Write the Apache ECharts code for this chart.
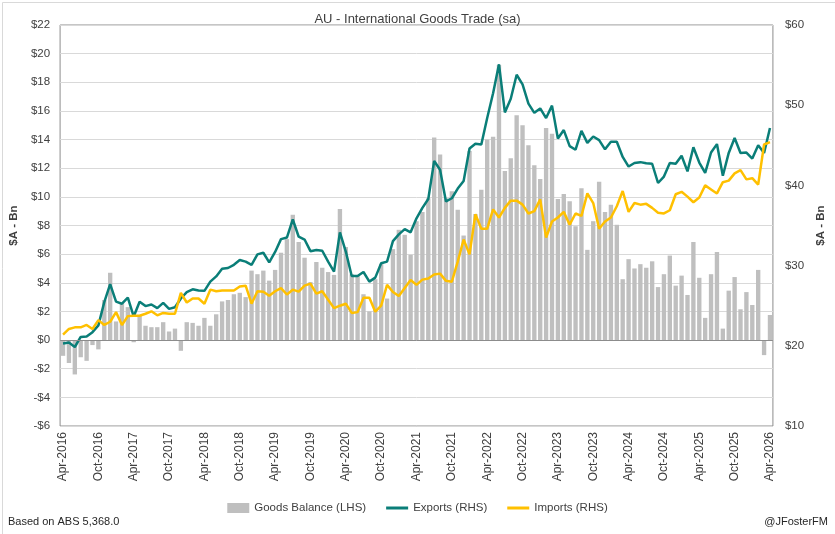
<!DOCTYPE html>
<html>
<head>
<meta charset="utf-8">
<script src="https://cdn.jsdelivr.net/npm/echarts@6/dist/echarts.min.js"></script>
<style>
html,body{margin:0;padding:0;background:#fff;}
#chart{width:835px;height:534px;}
</style>
</head>
<body>
<div id="chart"></div>
<script>
// Monthly categories Apr-2016 .. Apr-2026
const monthNames = ['Jan','Feb','Mar','Apr','May','Jun','Jul','Aug','Sep','Oct','Nov','Dec'];
const startYear = 2016, startMonth = 3, nMonths = 121;
const categories = [];
for (let k = 0; k < nMonths; k++) {
  const m = (startMonth + k) % 12, y = startYear + Math.floor((startMonth + k) / 12);
  categories.push(monthNames[m] + '-' + y);
}

// Goods balance, $A bn (LHS)
const goodsBalance = [
  -1.1,-1.6,-2.4,-1.2,-1.45,-0.35,-0.65,2.8,4.7,1.3,
  2.6,2.3,-0.15,1.7,1.0,0.9,0.9,1.25,0.6,0.8,
  -0.75,1.25,1.2,1.0,1.55,1.0,1.8,2.7,2.8,3.2,
  3.3,3.0,4.85,4.6,4.85,4.15,4.9,6.1,7.05,8.75,
  6.85,5.75,4.05,5.45,5.05,4.75,4.55,9.15,6.5,4.6,
  4.5,3.2,2.0,4.25,5.3,2.9,6.35,7.7,7.35,5.95,
  8.3,8.95,9.9,14.15,12.95,9.9,10.4,9.1,7.3,13.2,
  8.8,10.5,14.0,14.2,19.2,11.8,12.7,15.7,15.0,13.6,
  12.2,11.25,14.8,14.4,9.85,10.2,9.7,7.95,10.6,6.3,
  8.3,11.05,8.95,9.45,8.05,4.25,5.65,5.0,5.3,5.05,
  5.5,3.7,4.6,5.9,3.8,4.5,3.15,6.85,4.35,1.55,
  4.6,6.15,0.8,3.45,4.4,2.15,3.35,2.45,4.9,-1.05,
  1.75
];

// Exports, $A bn (RHS)
const exportsRHS = [
  20.3,20.4,19.85,21.1,21.15,21.7,22.55,25.45,27.7,25.5,
  25.25,26.0,23.65,25.5,24.95,25.15,24.7,25.35,24.6,24.8,
  25.9,26.7,27.05,26.9,26.85,28.0,28.65,29.6,29.7,30.1,
  30.7,30.5,30.1,31.4,31.6,30.4,31.7,33.3,33.5,35.75,
  33.6,33.25,31.8,31.95,31.85,30.5,29.25,34.15,31.75,28.7,
  28.7,29.2,28.0,28.5,30.3,30.5,33.05,33.9,34.55,34.15,
  35.9,37.2,38.3,43.05,41.95,38.0,38.4,39.6,40.55,44.6,
  45.2,45.1,48.4,51.5,55.1,49.1,50.8,53.8,52.6,50.2,
  49.05,49.6,48.4,49.95,45.85,46.9,44.9,44.45,46.8,45.3,
  46.1,45.65,44.5,45.45,45.45,43.55,42.35,42.8,42.9,42.75,
  42.7,40.3,41.1,42.8,42.7,43.7,41.75,44.75,42.85,41.55,
  44.1,45.15,41.2,44.05,45.9,44.05,44.1,43.35,45.0,44.05,
  47.15
];

// Imports, $A bn (RHS)
const importsRHS = [
  21.4,22.1,22.3,22.3,22.6,22.1,23.2,22.6,23.0,24.2,
  22.6,23.7,23.75,23.75,24.0,24.3,23.8,24.1,24.0,24.0,
  26.6,25.4,25.9,25.9,25.25,27.0,26.8,26.9,26.9,26.9,
  27.4,27.5,25.25,26.8,26.75,26.25,26.8,27.2,26.4,27.0,
  26.75,27.5,27.75,26.5,26.8,25.75,24.7,25.0,25.25,24.1,
  24.2,26.0,26.0,24.25,25.0,27.6,26.7,26.2,27.2,28.2,
  27.6,28.25,28.4,28.9,29.0,28.1,28.0,30.5,33.25,31.4,
  36.4,34.6,34.6,37.0,36.0,37.2,38.1,38.1,37.6,36.5,
  36.8,38.25,33.5,35.5,36.0,36.7,35.1,36.5,36.2,39.0,
  37.8,34.6,35.5,36.0,37.4,39.3,36.7,37.8,37.6,37.7,
  37.2,36.6,36.5,36.9,38.9,39.2,38.6,37.9,38.5,40.0,
  39.5,39.0,40.4,40.6,41.5,41.9,40.75,40.9,40.1,45.1,
  45.4
];

const seriesNames = ['Goods Balance (LHS)', 'Exports (RHS)', 'Imports (RHS)'];
const titleText = 'AU - International Goods Trade (sa)';
const axisTitle = '$A - Bn';
const sourceNote = 'Based on ABS 5,368.0';
const handle = '@JFosterFM';

const FONT = '"Liberation Sans", Arial, sans-serif';
const labelColor = '#404040';
const lineIcon = 'path://M0,0 L22,0 L22,3 L0,3 Z';

function money(v) { return (v < 0 ? '-$' : '$') + Math.abs(v); }

const chart = echarts.init(document.getElementById('chart'), null, {renderer: 'canvas'});
chart.setOption({
  animation: false,
  backgroundColor: '#ffffff',
  textStyle: {fontFamily: FONT},
  title: {
    text: titleText, left: 'center', top: 8,
    textStyle: {fontSize: 13, fontWeight: 'normal', color: '#404040', fontFamily: FONT}
  },
  grid: {
    left: 60, right: 57, top: 25, bottom: 108,
    show: true, borderColor: '#8c8c8c', borderWidth: 1, backgroundColor: 'transparent'
  },
  legend: {
    bottom: 15, left: 'center', itemGap: 20, itemWidth: 22, itemHeight: 10,
    symbolKeepAspect: true,
    textStyle: {fontSize: 11.5, color: '#404040', fontFamily: FONT},
    data: [
      {name: seriesNames[0], icon: 'rect'},
      {name: seriesNames[1], icon: lineIcon},
      {name: seriesNames[2], icon: lineIcon}
    ]
  },
  xAxis: {
    type: 'category', data: categories, boundaryGap: true,
    axisLine: {show: false}, axisTick: {show: false},
    axisLabel: {interval: 5, rotate: 90, fontSize: 12, color: labelColor, margin: 6, fontFamily: FONT},
    splitLine: {show: false}
  },
  yAxis: [
    {
      type: 'value', min: -6, max: 22, interval: 2, position: 'left',
      name: axisTitle, nameLocation: 'middle', nameRotate: 90, nameGap: 40,
      nameTextStyle: {fontSize: 11.5, fontWeight: 'bold', color: '#404040', fontFamily: FONT},
      axisLine: {show: false}, axisTick: {show: false},
      axisLabel: {formatter: money, fontSize: 11.5, color: labelColor, margin: 10},
      splitLine: {show: true, lineStyle: {color: '#d9d9d9', width: 1}}
    },
    {
      type: 'value', min: 10, max: 60, interval: 10, position: 'right',
      name: axisTitle, nameLocation: 'middle', nameRotate: 90, nameGap: 42,
      nameTextStyle: {fontSize: 11.5, fontWeight: 'bold', color: '#404040', fontFamily: FONT},
      axisLine: {show: false}, axisTick: {show: false},
      axisLabel: {formatter: money, fontSize: 11.5, color: labelColor, margin: 12},
      splitLine: {show: false}
    }
  ],
  series: [
    {
      name: seriesNames[0], type: 'bar', yAxisIndex: 0, data: goodsBalance,
      barWidth: '74%', itemStyle: {color: '#bfbfbf'},
      markLine: {
        silent: true, symbol: 'none', label: {show: false},
        lineStyle: {color: '#8c8c8c', width: 1, type: 'solid'},
        data: [{yAxis: 0}]
      }
    },
    {
      name: seriesNames[1], type: 'line', yAxisIndex: 1, data: exportsRHS,
      symbol: 'none', showSymbol: false, lineStyle: {color: '#0a7e78', width: 2.5},
      itemStyle: {color: '#0a7e78'}
    },
    {
      name: seriesNames[2], type: 'line', yAxisIndex: 1, data: importsRHS,
      symbol: 'none', showSymbol: false, lineStyle: {color: '#ffc000', width: 2.5},
      itemStyle: {color: '#ffc000'}
    }
  ],
  graphic: [
    {type: 'rect', left: 0, top: 0, shape: {x: 0.5, y: 0.5, width: 833, height: 532},
     style: {fill: 'none', stroke: '#d9d9d9', lineWidth: 1}, silent: true, z: -1},
    {type: 'text', left: 8, top: 516, style: {text: sourceNote, fontSize: 11, fill: '#262626', font: '11px ' + FONT}},
    {type: 'text', right: 7, top: 516, style: {text: handle, fontSize: 11, fill: '#262626', font: '11px ' + FONT}}
  ]
});
</script>
</body>
</html>
